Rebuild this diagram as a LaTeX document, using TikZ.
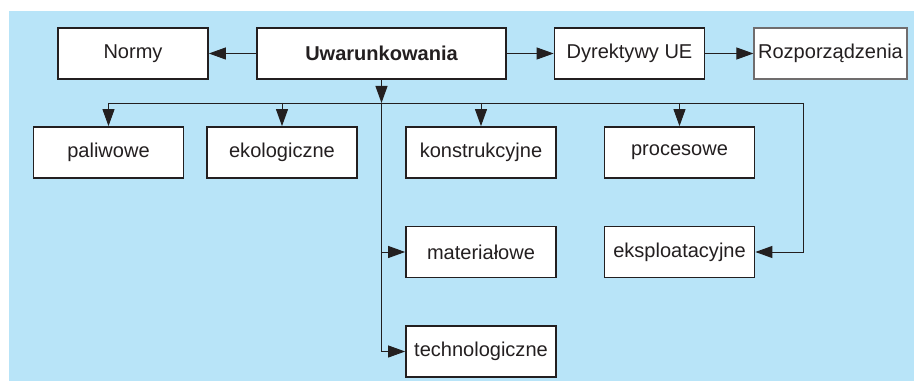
\documentclass[tikz,border=0pt]{standalone}
\usepackage{fontspec}
\setmainfont{Liberation Sans}
\usetikzlibrary{arrows.meta}
\definecolor{tlo}{RGB}{184,228,248}
\definecolor{ink}{RGB}{35,31,32}
\begin{document}
\begin{tikzpicture}[x=0.02cm,y=-0.02cm]
      \tikzstyle{box}=[draw=ink,fill=white,line width=1pt,minimum width=3cm,minimum height=1.02cm,inner sep=1pt,text=ink,font=\fontsize{11.4}{13.7}\selectfont]
      \tikzstyle{edge}=[draw=ink,line width=0.55pt,-{Triangle[length=0.34cm,width=0.24cm]}]
      \useasboundingbox (0,0) rectangle (914,381);
      \fill[tlo] (9,11) rectangle (914,381);
      \node[box] (N) at (133,53.5) {Normy};
      \node[box,minimum width=4.98cm,font=\fontsize{11.4}{13.7}\selectfont\bfseries] (U) at (381.5,53.5) {Uwarunkowania};
      \node[box] (D) at (629.5,53.5) {Dyrektywy UE};
      \node[box,draw=ink!65,line width=0.7pt,minimum width=3.06cm] (R) at (830.5,53.5) {Rozporządzenia};
      \node[box] (P) at (108.5,152.5) {paliwowe};
      \node[box] (E) at (282,152.5) {ekologiczne};
      \node[box] (K) at (481,152.5) {konstrukcyjne};
      \node[box] (PR) at (679.5,152.5) {procesowe};
      \node[box] (M) at (481,252) {materiałowe};
      \node[box] (EX) at (679.5,252) {eksploatacyjne};
      \node[box] (T) at (481,351.5) {technologiczne};
      \coordinate (B) at (381.5,103);
      \coordinate (BR) at (803,103);
      \path[edge] (U) -- (N);
      \path[edge] (U) -- (D);
      \path[edge] (D) -- (R);
      \path[edge] (U.south) -- (B);
      \path[draw=ink,line width=0.55pt] (B -| P.north) -- (BR);
      \path[edge] (BR) |- (EX.east);
      \path[edge] (B -| P.north) -- (P.north);
      \path[edge] (B -| E.north) -- (E.north);
      \path[edge] (B -| K.north) -- (K.north);
      \path[edge] (B -| PR.north) -- (PR.north);
      \path[edge] (B) |- (M.west);
      \path[edge] (B) |- (T.west);
    \end{tikzpicture}
\end{document}
